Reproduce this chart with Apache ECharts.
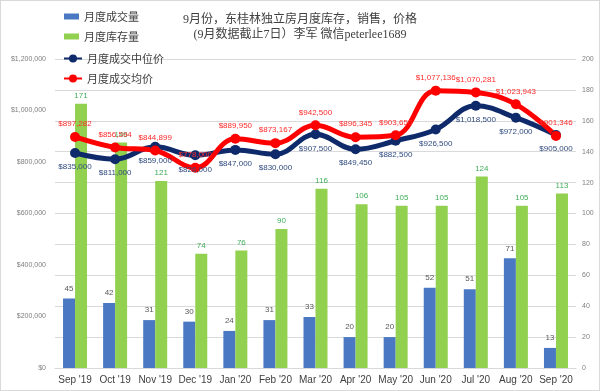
<!DOCTYPE html>
<html><head><meta charset="utf-8">
<script src="https://cdn.jsdelivr.net/npm/echarts@6/dist/echarts.min.js"></script>
<style>html,body{margin:0;padding:0;background:#fff}#c{width:598px;height:389px;border:1px solid #d9d9d9}</style>
</head><body><div id="c"></div>
<script>
const categories = ["Sep '19","Oct '19","Nov '19","Dec '19","Jan '20","Feb '20","Mar '20","Apr '20","May '20","Jun '20","Jul '20","Aug '20","Sep '20"];
const salesCount = [45,42,31,30,24,31,33,20,20,52,51,71,13];
const inventory = [171,146,121,74,76,90,116,106,105,105,124,105,113];
const medianPrice = [835000,811000,859000,826000,847000,830000,907500,849450,882500,926500,1018500,972000,905000];
const avgPrice = [897282,856594,844899,778000,889950,873167,942500,896345,903650,1077136,1070281,1023943,901346];
const titleLines = ["9月份，东桂林独立房月度库存，销售，价格","(9月数据截止7日）李军 微信peterlee1689"];

const chart = echarts.init(document.getElementById('c'));
const money = v => '$' + Math.round(v).toLocaleString('en-US');
chart.setOption({
  animation:false,
  title:{text:titleLines.join('\n'),left:'center',top:6,
    textStyle:{fontFamily:"'Liberation Serif','Noto Sans CJK SC',serif",fontSize:12,fontWeight:'normal',color:'#404040',lineHeight:15}},
  legend:[
    {orient:'vertical',left:58,top:5,itemWidth:15,itemHeight:6,itemGap:9,icon:'rect',
     data:['月度成交量','月度库存量'],textStyle:{fontSize:11,color:'#404040',fontFamily:"'Noto Sans CJK SC',sans-serif"}},
    {orient:'vertical',left:57,top:47,itemWidth:18,itemHeight:10,itemGap:9,
     data:['月度成交中位价','月度成交均价'],textStyle:{fontSize:11,color:'#404040',fontFamily:"'Noto Sans CJK SC',sans-serif"}}
  ],
  grid:{left:54,right:23,top:58,bottom:22},
  xAxis:{type:'category',data:categories,axisTick:{show:false},
    axisLine:{lineStyle:{color:'#d9d9d9'}},
    axisLabel:{color:'#404040',fontSize:10,margin:7,interval:0}},
  yAxis:[
    {type:'value',min:0,max:1200000,interval:200000,splitLine:{show:false},
     axisLabel:{formatter:money,color:'#7f7f7f',fontSize:7,margin:9}},
    {type:'value',min:0,max:200,interval:20,position:'right',
     splitLine:{lineStyle:{color:'#d9d9d9'}},
     axisLabel:{color:'#7f7f7f',fontSize:7,margin:6}}
  ],
  series:[
    {name:'月度成交量',type:'bar',yAxisIndex:1,data:salesCount,barWidth:12,barGap:'0%',
     itemStyle:{color:'#4a78c2'},label:{show:true,position:'top',color:'#595959',fontSize:8,distance:6}},
    {name:'月度库存量',type:'bar',yAxisIndex:1,data:inventory,barWidth:12,barGap:'0%',
     itemStyle:{color:'#92d050'},label:{show:true,position:'top',color:'#3fae5a',fontSize:8,distance:4}},
    {name:'月度成交中位价',type:'line',yAxisIndex:0,data:medianPrice,smooth:0.4,
     symbol:'circle',symbolSize:10,lineStyle:{width:5,color:'#0f2a6b'},itemStyle:{color:'#0f2a6b'},
     label:{show:true,position:'bottom',color:'#2f4a7f',fontSize:8,distance:5,formatter:p=>money(p.value)}},
    {name:'月度成交均价',type:'line',yAxisIndex:0,data:avgPrice,smooth:0.4,
     symbol:'circle',symbolSize:10,lineStyle:{width:5,color:'#ff0000'},itemStyle:{color:'#ff0000'},
     label:{show:true,position:'top',color:'#ff2b2b',fontSize:8,distance:4,formatter:p=>money(p.value)}}
  ]
});
</script></body></html>
